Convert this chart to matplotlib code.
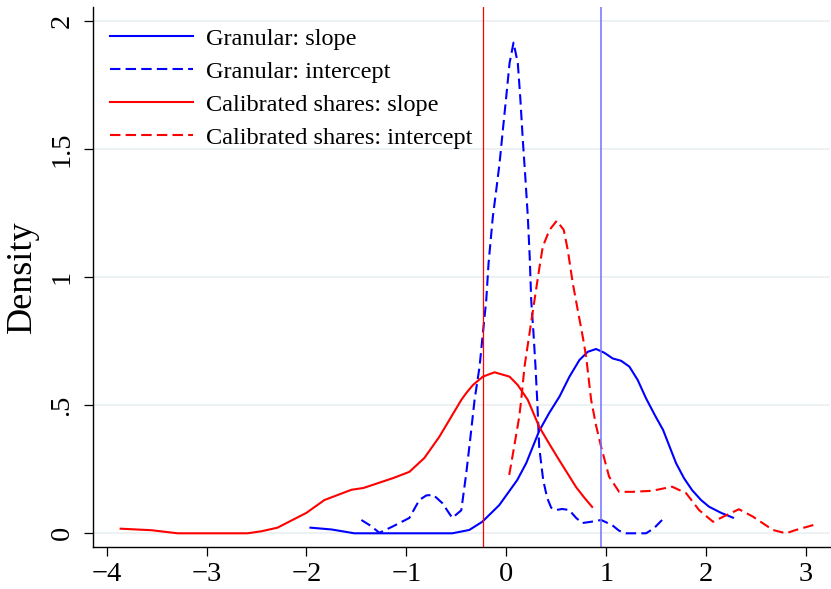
import matplotlib
matplotlib.use("Agg")
import matplotlib.pyplot as plt

plt.rcParams['font.family'] = ['Liberation Serif', 'DejaVu Serif']
plt.rcParams['axes.unicode_minus'] = True

# Granular: slope
gs_x = [-1.96, -1.75, -1.52, -1.0, -0.54, -0.37, -0.24, -0.07, 0.11, 0.20, 0.33, 0.43, 0.533, 0.633,
        0.733, 0.816, 0.90, 0.983, 1.066, 1.15, 1.233, 1.316, 1.40, 1.49, 1.57, 1.70, 1.78, 1.86, 1.95,
        2.03, 2.15, 2.27]
gs_y = [0.022, 0.015, 0.0, 0.0, 0.0, 0.013, 0.045, 0.11, 0.208, 0.274, 0.40, 0.47, 0.534, 0.612,
        0.677, 0.709, 0.72, 0.705, 0.683, 0.674, 0.651, 0.599, 0.527, 0.46, 0.404, 0.274, 0.215, 0.169, 0.13,
        0.104, 0.08, 0.061]

# Granular: intercept
gi_x = [-1.45, -1.36, -1.27, -1.14, -0.97, -0.87, -0.80, -0.73, -0.64, -0.54, -0.45, -0.40, -0.36,
        -0.317, -0.267, -0.234, -0.20, -0.177, -0.134, -0.10, -0.067, -0.034, 0.0, 0.033, 0.073, 0.116,
        0.14, 0.166, 0.193, 0.216, 0.235, 0.25, 0.273, 0.293, 0.31, 0.33, 0.37, 0.41, 0.45, 0.50, 0.56,
        0.63, 0.70, 0.76, 0.85, 0.95, 1.06, 1.13, 1.20, 1.40, 1.48, 1.56]
gi_y = [0.052, 0.03, 0.002, 0.026, 0.06, 0.13, 0.148, 0.15, 0.118, 0.06, 0.09, 0.235, 0.37,
        0.521, 0.651, 0.781, 0.911, 1.055, 1.237, 1.341, 1.445, 1.575, 1.705, 1.836, 1.917, 1.836,
        1.705, 1.536, 1.38, 1.237, 1.08, 0.911, 0.781, 0.651, 0.521, 0.337, 0.208, 0.138, 0.10, 0.091, 0.095,
        0.091, 0.06, 0.04, 0.045, 0.052, 0.032, 0.01, 0.0, 0.0, 0.02, 0.052]

# Calibrated shares: slope
cs_x = [-3.86, -3.55, -3.29, -3.0, -2.59, -2.45, -2.29, -2.0, -1.82, -1.55, -1.43, -1.13, -0.97, -0.82,
        -0.67, -0.54, -0.45, -0.40, -0.334, -0.234, -0.117, 0.033, 0.116, 0.216, 0.33, 0.43, 0.53, 0.62,
        0.70, 0.78, 0.86]
cs_y = [0.018, 0.012, 0.0, 0.0, 0.0, 0.008, 0.022, 0.08, 0.13, 0.17, 0.177, 0.216, 0.24, 0.294,
        0.377, 0.462, 0.521, 0.548, 0.579, 0.612, 0.629, 0.612, 0.579, 0.521, 0.416, 0.35, 0.286, 0.23,
        0.18, 0.14, 0.103]

# Calibrated shares: intercept
ci_x = [0.03, 0.08, 0.13, 0.15, 0.183, 0.233, 0.283, 0.333, 0.366, 0.433, 0.506, 0.576, 0.616, 0.666,
        0.716, 0.766, 0.80, 0.85, 0.90, 0.95, 1.03, 1.13, 1.26, 1.46, 1.66, 1.80, 1.93, 2.07, 2.20, 2.33,
        2.47, 2.67, 2.80, 2.90, 3.10]
ci_y = [0.228, 0.34, 0.455, 0.521, 0.651, 0.781, 0.911, 1.04, 1.12, 1.185, 1.221, 1.185, 1.107, 0.977,
        0.872, 0.768, 0.69, 0.521, 0.42, 0.338, 0.221, 0.162, 0.162, 0.166, 0.182, 0.157, 0.091, 0.045,
        0.07, 0.094, 0.065, 0.013, 0.0, 0.013, 0.035]

vline_red = -0.233
vline_blue = 0.95

xticks = [-4, -3, -2, -1, 0, 1, 2, 3]
yticks = [0, 0.5, 1, 1.5, 2]
ytick_labels = ['0', '.5', '1', '1.5', '2']

fig = plt.figure(figsize=(8.31, 5.89), dpi=100)
ax = fig.add_axes([93.3 / 831, 1 - 547.3 / 589, 1 - 93.3 / 831 - 0.001, (547.3 - 7) / 589])

for y in yticks:
    ax.axhline(y, color='#eaf0f2', lw=1.3, zorder=0)

dash = (5, 2.5)
ax.plot(gs_x, gs_y, color='#0000ff', lw=1.5, label='Granular: slope')
ax.plot(gi_x, gi_y, color='#0000ff', lw=1.5, dashes=dash, label='Granular: intercept')
ax.plot(cs_x, cs_y, color='#ff0000', lw=1.5, label='Calibrated shares: slope')
ax.plot(ci_x, ci_y, color='#ff0000', lw=1.5, dashes=dash, label='Calibrated shares: intercept')

ax.axvline(vline_red, color='#ff0000', lw=0.9)
ax.axvline(vline_blue, color='#7070ff', lw=1.1)

ax.set_xlim(-4.134, 3.243)
ax.set_ylim(-0.0547, 2.056)

ax.spines['top'].set_visible(False)
ax.spines['right'].set_visible(False)
ax.spines['left'].set_linewidth(1.0)
ax.spines['bottom'].set_linewidth(1.0)

ax.set_xticks(xticks)
ax.set_xticklabels([str(t).replace('-', '\u2212') for t in xticks])
ax.set_yticks(yticks)
ax.set_yticklabels(ytick_labels, rotation=90, va='center')
ax.tick_params(axis='both', direction='out', length=6.5, width=0.9, labelsize=20.5, pad=4)
ax.tick_params(axis='y', pad=7)
ax.set_ylabel('Density', fontsize=26, labelpad=8)

leg = ax.legend(loc='upper left', bbox_to_anchor=(0.0, 0.993), frameon=False, fontsize=17.5,
                handlelength=3.4, handletextpad=0.55, labelspacing=0.45, borderaxespad=0.3)

fig.savefig('out.png', dpi=100)
